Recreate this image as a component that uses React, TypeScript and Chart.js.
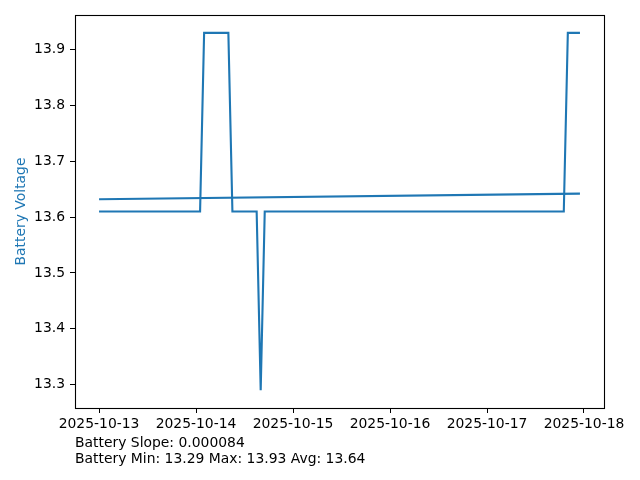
import React, { useEffect, useRef } from "react";
import { Chart, registerables } from "chart.js";

Chart.register(...registerables);

// Hours since 2025-10-13 00:00 and battery voltage (change points of the hourly series)
const hours = [0, 25, 26, 32, 33, 39, 40, 41, 115, 116, 119];
const voltage = [13.61, 13.61, 13.93, 13.93, 13.61, 13.61, 13.29, 13.61, 13.61, 13.93, 13.93];

// Linear trend line
const trendHours = [0, 119];
const trendVoltage = [13.632, 13.642];

const xTickHours = [0, 24, 48, 72, 96, 120];
const xTickLabels = ["2025-10-13", "2025-10-14", "2025-10-15", "2025-10-16", "2025-10-17", "2025-10-18"];
const yTicks = [13.3, 13.4, 13.5, 13.6, 13.7, 13.8, 13.9];

const yLabel = "Battery Voltage";
const notes = ["Battery Slope: 0.000084", "Battery Min: 13.29 Max: 13.93 Avg: 13.64"];

const BLUE = "#1f77b4";
const FONT = "DejaVu Sans";
const FS = 13.9;

export default function App() {
  const ref = useRef<HTMLCanvasElement | null>(null);

  useEffect(() => {
    if (!ref.current) return;
    const xSpan = hours[hours.length - 1] - hours[0];
    const ymin = Math.min(...voltage);
    const ymax = Math.max(...voltage);
    const ySpan = ymax - ymin;

    const framePlugin = {
      id: "frame",
      afterDatasetsDraw(chart: any) {
        const { ctx, chartArea } = chart;
        ctx.save();
        ctx.strokeStyle = "#000";
        ctx.lineWidth = 1.1;
        ctx.strokeRect(
          Math.round(chartArea.left) + 0.5,
          Math.round(chartArea.top) + 0.5,
          Math.round(chartArea.right - chartArea.left),
          Math.round(chartArea.bottom - chartArea.top)
        );
        ctx.restore();
      },
      afterDraw(chart: any) {
        const { ctx, chartArea } = chart;
        ctx.save();
        ctx.fillStyle = "#000";
        ctx.font = `${FS}px "${FONT}"`;
        ctx.textBaseline = "alphabetic";
        ctx.textAlign = "left";
        ctx.fillText(notes[0], chartArea.left, 446.7);
        ctx.fillText(notes[1], chartArea.left, 462.7);
        ctx.restore();
      },
    };

    const chart = new Chart(ref.current, {
      type: "line",
      data: {
        datasets: [
          {
            data: hours.map((h, i) => ({ x: h, y: voltage[i] })),
            borderColor: BLUE,
            borderWidth: 2.1,
            pointRadius: 0,
            tension: 0,
            fill: false,
          },
          {
            data: trendHours.map((h, i) => ({ x: h, y: trendVoltage[i] })),
            borderColor: BLUE,
            borderWidth: 2.1,
            pointRadius: 0,
            tension: 0,
            fill: false,
          },
        ],
      },
      options: {
        responsive: false,
        animation: false,
        events: [],
        layout: { padding: { top: 15, right: 36, left: 0, bottom: 0 } },
        plugins: {
          legend: { display: false },
          tooltip: { enabled: false },
        },
        scales: {
          x: {
            type: "linear",
            min: hours[0] - 0.05 * xSpan,
            max: hours[hours.length - 1] + 0.05 * xSpan,
            afterFit: (s: any) => {
              s.height = 72;
            },
            afterBuildTicks: (s: any) => {
              s.ticks = xTickHours.map((v) => ({ value: v }));
            },
            grid: {
              drawOnChartArea: false,
              drawTicks: true,
              tickLength: 5,
              color: "#000",
            },
            border: { display: true, color: "#000", width: 1 },
            ticks: {
              color: "#000",
              font: { family: FONT, size: FS },
              padding: 3,
              maxRotation: 0,
              autoSkip: false,
              callback: (v: any) => {
                const i = xTickHours.indexOf(Number(v));
                return i >= 0 ? xTickLabels[i] : "";
              },
            },
          },
          y: {
            type: "linear",
            min: ymin - 0.05 * ySpan,
            max: ymax + 0.05 * ySpan,
            afterFit: (s: any) => {
              s.width = 75;
            },
            afterBuildTicks: (s: any) => {
              s.ticks = yTicks.map((v) => ({ value: v }));
            },
            grid: {
              drawOnChartArea: false,
              drawTicks: true,
              tickLength: 5,
              color: "#000",
            },
            border: { display: true, color: "#000", width: 1 },
            ticks: {
              color: "#000",
              font: { family: FONT, size: FS },
              padding: 5,
              autoSkip: false,
              callback: (v: any) => Number(v).toFixed(1),
            },
            title: {
              display: true,
              text: yLabel,
              color: BLUE,
              font: { family: FONT, size: FS },
              padding: { top: 13.5, bottom: 0 },
            },
          },
        },
      },
      plugins: [framePlugin],
    } as any);

    return () => chart.destroy();
  }, []);

  return (
    <div style={{ position: "fixed", left: 0, top: 0, width: 640, height: 480, background: "#fff" }}>
      <canvas ref={ref} width={640} height={480} style={{ display: "block", width: 640, height: 480 }} />
    </div>
  );
}
